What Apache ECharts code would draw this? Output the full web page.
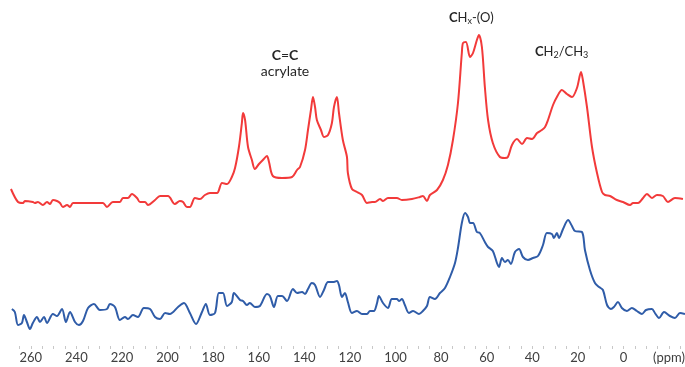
<!DOCTYPE html>
<html>
<head>
<meta charset="utf-8">
<script src="https://cdn.jsdelivr.net/npm/echarts@6/dist/echarts.min.js"></script>
<style>
html,body{margin:0;padding:0;background:#fff;}
#chart{width:685px;height:367px;}
</style>
</head>
<body>
<div id="chart"></div>
<script>
// Chemical shift (ppm) and intensity (a.u., relative to each trace's baseline)
const redPpm = [268.7,265.6,263.4,262.6,259.1,258.2,256.9,254.7,252.9,251.6,250.3,248.5,247.2,245.9,244.1,242.8,241.5,235.4,229.7,228.3,226.6,224.0,220.9,219.6,217.4,215.6,213.4,212.1,209.9,208.6,205.5,203.3,199.8,196.8,194.6,193.2,191.5,190.2,188.0,185.8,183.6,181.4,178.3,176.1,173.9,171.8,170.4,168.7,167.4,166.9,166.0,164.7,163.0,161.7,159.9,158.2,156.4,155.5,153.8,149.8,145.4,143.2,141.9,139.7,138.4,137.1,136.2,135.3,134.5,132.7,131.4,129.6,127.9,127.0,125.7,124.8,123.1,121.3,120.9,119.1,116.9,114.7,112.5,110.3,109.0,106.8,105.5,103.3,99.4,97.2,92.8,89.3,88.0,86.2,84.9,81.8,79.2,77.0,74.8,72.6,70.9,70.4,69.1,67.3,66.0,64.3,63.4,62.1,60.8,59.4,57.3,54.2,52.0,50.7,48.9,46.7,44.5,42.3,40.1,37.9,35.8,34.4,33.1,30.9,29.2,27.0,24.8,22.6,20.4,18.6,17.8,16.0,13.8,11.6,9.4,8.1,5.9,2.9,0.2,-2.9,-4.2,-6.4,-8.6,-10.3,-12.5,-14.7,-17.3,-19.5,-22.6,-26.1];
const redInt = [13,0,-1,1,0,-1,0,-3,0,-2,2,1,-1,-5,-3,-5,-1,-1,-1,-1,-5,0,0,4,4,8,4,0,0,-3,2,6,6,-2,1,0,-5,-5,4,3,7,9,9,19,18,25,34,55,79,89,82,55,42,33,38,42,46,40,26,24,25,32,35,52,72,92,105,95,82,72,65,67,79,95,105,89,62,45,29,13,10,7,-1,0,0,3,1,4,4,2,3,5,6,1,7,12,22,37,62,99,149,159,160,145,149,162,167,155,115,82,59,45,44,45,57,63,58,64,63,69,72,75,82,97,105,112,108,105,114,130,122,95,55,29,10,7,6,2,0,-3,-1,-1,4,8,4,7,6,0,4,3];

const bluePpm = [268.3,267.0,265.6,263.9,263.0,261.7,260.4,259.1,257.3,256.0,254.2,252.9,250.3,248.5,246.3,244.6,242.8,240.6,238.9,237.1,234.9,232.3,229.7,226.6,225.3,223.1,220.9,218.7,217.4,215.2,213.0,210.4,207.7,205.5,203.3,201.1,199.0,195.4,192.8,190.2,187.5,184.9,183.2,181.4,179.2,177.5,175.7,173.9,171.8,170.9,168.2,166.9,165.2,163.9,161.7,159.5,156.4,155.1,153.3,151.6,149.8,147.6,145.0,143.2,141.0,139.7,138.4,136.7,135.3,133.1,131.4,129.6,127.0,125.7,124.8,123.5,122.2,120.9,119.1,116.9,114.7,112.5,111.2,109.5,108.1,107.3,105.5,103.3,101.6,99.4,98.5,97.2,95.9,94.1,92.3,89.7,88.0,86.2,84.9,82.7,80.5,78.3,76.1,73.9,72.6,70.9,69.5,68.2,67.3,66.0,64.3,63.0,60.8,59.4,57.3,55.5,54.6,53.3,52.0,50.7,49.4,47.6,45.8,44.1,41.9,39.7,37.5,35.3,33.6,31.4,30.5,29.2,28.3,26.5,24.3,22.6,21.3,18.2,16.9,14.7,12.5,10.7,9.0,7.2,5.5,4.2,2.4,0.7,-1.5,-3.7,-5.9,-8.1,-9.9,-12.5,-13.8,-15.6,-17.8,-20.4,-22.6,-24.8,-27.0];
const blueInt = [5,2,-11,-9,-1,-8,-15,-9,-3,-8,-3,-9,0,-2,5,-8,2,-8,-11,-7,6,10,4,5,10,7,-6,-3,-5,-1,-3,6,5,-3,-5,1,0,7,11,1,-10,2,10,-1,1,21,21,8,12,21,14,13,9,11,7,8,20,18,7,18,18,13,25,21,22,20,25,31,29,17,24,32,32,33,29,17,21,12,1,3,0,0,3,3,11,18,11,6,15,15,13,15,9,1,3,0,3,8,17,15,21,26,37,51,66,91,101,97,91,91,82,81,72,67,63,51,47,56,52,54,50,62,65,57,54,56,58,69,81,80,76,81,76,85,94,88,83,82,64,44,31,27,24,9,5,7,12,6,3,6,3,0,4,5,1,-4,2,-2,-4,1,0];

const tickLabelValues = [260,240,220,200,180,160,140,120,100,80,60,40,20,0];
const unitLabelValue = -20;
const unitLabel = '(ppm)';
const minorTickValues = [];
for (let v = -25; v <= 265; v += 5) minorTickValues.push(v);

const RED_OFFSET = 112; // vertical stacking of the upper trace

const chart = echarts.init(document.getElementById('chart'));
const FONT = 'Lato';
chart.setOption({
  animation: false,
  grid: {left: 8, right: 0, top: 0, bottom: 27, containLabel: false, outerBoundsMode: 'none'},
  xAxis: {
    type: 'value', inverse: true, min: -27, max: 270,
    offset: 6,
    axisLine: {show: false, onZero: false},
    splitLine: {show: false},
    axisTick: {show: true, customValues: minorTickValues, length: 3, lineStyle: {color: '#c8c8c8', width: 1}},
    axisLabel: {
      customValues: tickLabelValues.concat([unitLabelValue]),
      formatter: v => v === unitLabelValue ? unitLabel : String(v),
      color: '#404040', fontFamily: FONT, fontSize: 13, margin: 5,
      showMinLabel: true, showMaxLabel: true
    }
  },
  yAxis: {type: 'value', min: -26, max: 314, show: false},
  series: [
    {type: 'line', data: redPpm.map((p, i) => [p, redInt[i] + RED_OFFSET]), showSymbol: false, smooth: 0.3,
     lineStyle: {color: '#f23a3a', width: 2}},
    {type: 'line', data: bluePpm.map((p, i) => [p, blueInt[i]]), showSymbol: false, smooth: 0.3,
     lineStyle: {color: '#2f5ca8', width: 2}}
  ],
  graphic: [
    {type: 'text', x: 285, y: 48, style: {text: '{b|C}={b|C}', fontFamily: FONT, fontSize: 14, fill: '#262626', align: 'center',
      rich: {b: {fontWeight: 'bold', fontFamily: FONT, fontSize: 14}}}},
    {type: 'text', x: 285, y: 64, style: {text: 'acrylate', fontFamily: FONT, fontSize: 14, fill: '#262626', align: 'center'}},
    {type: 'text', x: 449, y: 10, style: {text: '{b|C}H{s|x}-(O)', fontFamily: FONT, fontSize: 13, fill: '#262626',
      rich: {b: {fontWeight: 'bold', fontFamily: FONT, fontSize: 13}, s: {fontFamily: FONT, fontSize: 9, padding: [7, 0, 0, 0]}}}},
    {type: 'text', x: 535, y: 44, style: {text: '{b|C}H{s|2}/CH{s|3}', fontFamily: FONT, fontSize: 13, fill: '#262626',
      rich: {b: {fontWeight: 'bold', fontFamily: FONT, fontSize: 13}, s: {fontFamily: FONT, fontSize: 9, padding: [7, 0, 0, 0]}}}}
  ]
});
</script>
</body>
</html>
